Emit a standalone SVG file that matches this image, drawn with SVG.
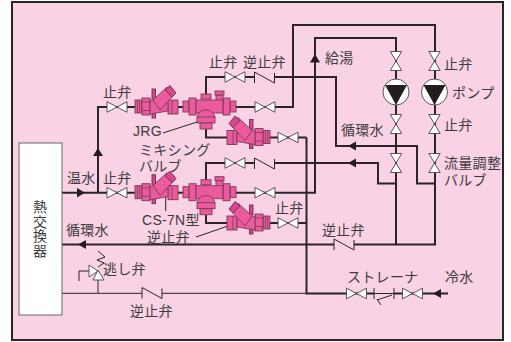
<svg xmlns="http://www.w3.org/2000/svg" width="511" height="342" viewBox="0 0 511 342">
<style>
text{font-family:"Noto Sans CJK JP","Liberation Sans",sans-serif;font-size:14px;fill:#3f3a3c;letter-spacing:.3px}
.l{font-family:"Liberation Sans","Noto Sans CJK JP",sans-serif}
.vt{writing-mode:vertical-rl;letter-spacing:.5px}
.p{fill:none;stroke:#2b2427;stroke-width:2}
.t{fill:none;stroke:#2b2427;stroke-width:1}
.a{fill:#231c1f;stroke:none}
.v{fill:#fff;stroke:#4a4447;stroke-width:.9}
.c{fill:none;stroke:#2b2427;stroke-width:1}
.m{fill:#ea5a9c;stroke:#7d3a58;stroke-width:.9}
.d{fill:#d8458a;stroke:#6e3050;stroke-width:.9}
.k{fill:none;stroke:#7d3a58;stroke-width:.8}
</style>
<defs>
<path id="valve" class="v" d="M-10,-5.3L10,5.3V-5.3L-10,5.3Z"/>
<path id="vvalve" class="v" d="M-5.7,-9.5H5.7L-5.7,9.5H5.7Z"/>
<path id="check" class="c" d="M-10,5.5V-5.5L10,5.5V-4.5"/>
<g id="cs7n">
<rect class="d" x="152" y="89" width="3.500" height="10"/>
<rect class="d" x="152" y="112" width="3.500" height="6"/>
<rect class="m" x="135" y="100" width="7" height="13"/>
<path class="k" d="M137.300,100V113M139.600,100V113"/>
<rect class="m" x="142" y="98" width="8" height="17"/>
<path class="k" d="M142,102H150M142,110.500H150"/>
<rect class="m" x="168" y="100" width="10" height="14"/>
<path class="k" d="M172,100V114"/>
<path class="m" d="M150,100L168,103V111L150,114Z"/>
<path class="m" d="M153,100L167,87L174,95L160,110Z"/>
<path class="d" d="M165,90L170,85.500L176,93L172,97Z"/>
</g>
<g id="mix">
<rect class="m" x="183" y="101" width="6" height="11"/>
<rect class="m" x="230" y="101" width="6" height="11"/>
<rect class="m" x="189" y="98" width="7" height="17"/>
<rect class="m" x="223" y="98" width="7" height="17"/>
<rect class="m" x="201" y="94" width="10" height="5"/>
<rect class="m" x="216" y="95" width="7" height="9"/>
<rect class="m" x="215" y="91" width="9" height="4"/>
<rect class="m" x="196" y="100" width="27" height="13"/>
<path class="m" d="M197,118Q198,110 206,110Q214,110 215,118Z"/>
<rect class="m" x="197" y="117" width="18" height="6"/>
<rect class="m" x="200" y="123" width="12" height="6"/>
</g>
</defs>
<rect x="12" y="2" width="491" height="338" fill="#f9d2e5" stroke="#2b2427" stroke-width="2"/>
<g id="connectors">
<path class="p" d="M62,192.700H315V38H396V244.500"/>
<path class="p" d="M98,192.700V107H135"/>
<path class="p" d="M178,107H183M236,107H293V25H435V244.500H354M334,244.500H62"/>
<path class="p" d="M206,95V77H255M274,77H336V146H417V183.500H435"/>
<path class="p" d="M206,129V137.500H306.500"/>
<path class="p" d="M206,181V163H255M274,163H378V183.500H396"/>
<path class="p" d="M206,215V223H306.500"/>
<path class="p" d="M306.500,137.500V293.500H374M394,293.500H448"/>
<path class="t" d="M62,293.300H142M162,293.300H306.500M98,293.300V280M374,293.500H394"/>
<path class="t" d="M89,271H79V281"/>
<path class="t" d="M98,267L104,263L97,260L105,257L98,251"/>
<path class="t" d="M392,295L377,300M377,299L381,305M374,288V299M394,288V299"/>
<path class="t" d="M163,133L197,122M165.700,197V211M196,237L228,226"/>
<path class="a" d="M77,188L85,192.700L77,197.500Z"/>
<path class="a" d="M98,148L103,156H93Z"/>
<path class="a" d="M315,54L320,62.500H310Z"/>
<path class="a" d="M348,146L356,141.500V150.500Z"/>
<path class="a" d="M348,163L356,158.500V167.500Z"/>
<path class="a" d="M78,244.500L86,240V249Z"/>
<path class="a" d="M433,293.500L441,289V298Z"/>
</g>
<g id="heat-exchanger"><rect x="19" y="143" width="43" height="172" fill="#fff" stroke="#6a6467" stroke-width="1"/>
<text x="40" y="200" class="vt">熱交換器</text></g>
<g id="v1"><use href="#valve" transform="translate(117,107)"/></g>
<g id="v2"><use href="#valve" transform="translate(117,192.700)"/></g>
<g id="v3"><use href="#valve" transform="translate(235,77)"/></g>
<g id="v4"><use href="#valve" transform="translate(265,107)"/></g>
<g id="v5"><use href="#valve" transform="translate(288,137.500)"/></g>
<g id="v6"><use href="#valve" transform="translate(235,163)"/></g>
<g id="v7"><use href="#valve" transform="translate(265,192.700)"/></g>
<g id="v8"><use href="#valve" transform="translate(288,223)"/></g>
<g id="v9"><use href="#valve" transform="translate(356.500,293.500)"/></g>
<g id="v10"><use href="#valve" transform="translate(412.500,293.500)"/></g>
<g id="c1"><use href="#check" transform="translate(264.500,77.500)"/></g>
<g id="c2"><use href="#check" transform="translate(264.500,163.500)"/></g>
<g id="c3"><use href="#check" transform="translate(344,244.500)"/></g>
<g id="c4"><use href="#check" transform="translate(152,293)"/></g>
<g id="cs1"><use href="#cs7n"/></g>
<g id="cs2"><use href="#cs7n" transform="translate(405,30.500) scale(-1,1)"/></g>
<g id="cs3"><use href="#cs7n" transform="translate(0,85.700)"/></g>
<g id="cs4"><use href="#cs7n" transform="translate(405,116) scale(-1,1)"/></g>
<g id="mix1"><use href="#mix"/></g>
<g id="mix2"><use href="#mix" transform="translate(0,85.700)"/></g>
<g id="pump-a"><use href="#vvalve" transform="translate(396,61)"/><use href="#vvalve" transform="translate(396,124)"/><use href="#vvalve" transform="translate(396,163)"/>
<circle cx="396" cy="92" r="13" class="v"/><path class="a" d="M385,85H407L396,105Z"/></g>
<g id="pump-b"><use href="#vvalve" transform="translate(434.500,61)"/><use href="#vvalve" transform="translate(434.500,124)"/><use href="#vvalve" transform="translate(434.500,163)"/>
<circle cx="434.500" cy="92" r="13" class="v"/><path class="a" d="M423.500,85H445.500L434.500,105Z"/></g>
<g id="relief"><path class="v" d="M98,270L104,280H93Z"/><path class="v" d="M98,271L89,265V277Z"/></g>
<g id="labels">
<text x="103" y="96.500">止弁</text>
<text x="209" y="66.500">止弁</text>
<text x="243" y="66.500">逆止弁</text>
<text x="133" y="136" class="l">JRG</text>
<text><tspan x="139" y="155">ミキシング</tspan><tspan x="139" y="170.500">バルブ</tspan></text>
<text x="67" y="183">温水</text>
<text x="103" y="183">止弁</text>
<text><tspan x="142" y="225" class="l">CS-7N</tspan><tspan>型</tspan><tspan x="147" y="242">逆止弁</tspan></text>
<text x="275" y="212.500">止弁</text>
<text x="66" y="235">循環水</text>
<text x="103" y="273.500">逃し弁</text>
<text x="130" y="316">逆止弁</text>
<text x="325" y="63">給湯</text>
<text x="444" y="68.500">止弁</text>
<text x="452" y="98">ポンプ</text>
<text x="444" y="130">止弁</text>
<text x="341" y="135">循環水</text>
<text><tspan x="444" y="168">流量調整</tspan><tspan x="444" y="185">バルブ</tspan></text>
<text x="322" y="234.500">逆止弁</text>
<text x="347" y="282">ストレーナ</text>
<text x="445" y="282">冷水</text>
</g>
</svg>
